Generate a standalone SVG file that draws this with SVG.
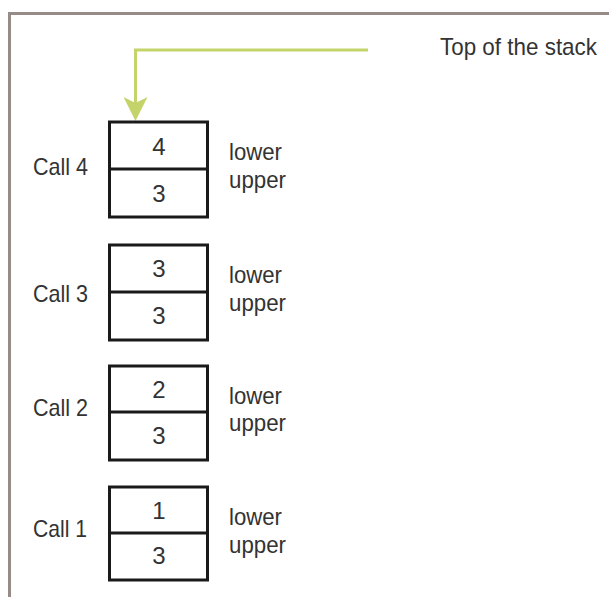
<svg xmlns="http://www.w3.org/2000/svg" width="609" height="597" viewBox="0 0 609 597">
<defs>
<style>
text{font-family:"Liberation Sans",Arial,sans-serif;font-size:24px;fill:#333}
.num{text-anchor:middle}
.box{fill:#fff;stroke:#1a1a1a;stroke-width:3}
.frame{fill:none;stroke:#978b87;stroke-width:3}
.conn{fill:none;stroke:#c4d36a;stroke-width:3}
</style>
<marker id="ah" markerWidth="8" markerHeight="8" refX="5" refY="4" orient="auto" markerUnits="strokeWidth" viewBox="0 0 8 8">
<path d="M0,0 L8,4 L0,8 L2,4 z" fill="#c4d36a"/>
</marker>
</defs>
<rect width="609" height="597" fill="#fff"/>
<path class="frame" d="M9.5,597 V13.5 H609"/>
<g id="connectors">
<path class="conn" d="M368,50 H135.5 V112" marker-end="url(#ah)"/>
</g>
<g id="top-label"><text x="440" y="55" textLength="157" lengthAdjust="spacingAndGlyphs">Top of the stack</text></g>
<g id="call4" transform="translate(0,122)">
<rect class="box" x="109.5" y="0" width="98" height="95"/>
<line class="box" x1="109.5" y1="47" x2="207.5" y2="47"/>
<text class="num" x="159" y="33">4</text>
<text class="num" x="159" y="80">3</text>
<text x="33" y="53" textLength="55" lengthAdjust="spacingAndGlyphs">Call 4</text>
<text x="229" y="38" textLength="53" lengthAdjust="spacingAndGlyphs">lower</text>
<text x="229" y="66" textLength="57" lengthAdjust="spacingAndGlyphs">upper</text>
</g>
<g id="call3" transform="translate(0,245)">
<rect class="box" x="109.5" y="0" width="98" height="95"/>
<line class="box" x1="109.5" y1="47" x2="207.5" y2="47"/>
<text class="num" x="159" y="32">3</text>
<text class="num" x="159" y="79">3</text>
<text x="33" y="57" textLength="55" lengthAdjust="spacingAndGlyphs">Call 3</text>
<text x="229" y="38" textLength="53" lengthAdjust="spacingAndGlyphs">lower</text>
<text x="229" y="66" textLength="57" lengthAdjust="spacingAndGlyphs">upper</text>
</g>
<g id="call2" transform="translate(0,366)">
<rect class="box" x="109.5" y="0" width="98" height="94"/>
<line class="box" x1="109.5" y1="46" x2="207.5" y2="46"/>
<text class="num" x="159" y="32">2</text>
<text class="num" x="159" y="78">3</text>
<text x="33" y="50" textLength="55" lengthAdjust="spacingAndGlyphs">Call 2</text>
<text x="229" y="38" textLength="53" lengthAdjust="spacingAndGlyphs">lower</text>
<text x="229" y="65" textLength="57" lengthAdjust="spacingAndGlyphs">upper</text>
</g>
<g id="call1" transform="translate(0,487)">
<rect class="box" x="109.5" y="0" width="98" height="93"/>
<line class="box" x1="109.5" y1="46" x2="207.5" y2="46"/>
<text class="num" x="159" y="32">1</text>
<text class="num" x="159" y="77">3</text>
<text x="33" y="50" textLength="54" lengthAdjust="spacingAndGlyphs">Call 1</text>
<text x="229" y="38" textLength="53" lengthAdjust="spacingAndGlyphs">lower</text>
<text x="229" y="66" textLength="57" lengthAdjust="spacingAndGlyphs">upper</text>
</g>
</svg>
